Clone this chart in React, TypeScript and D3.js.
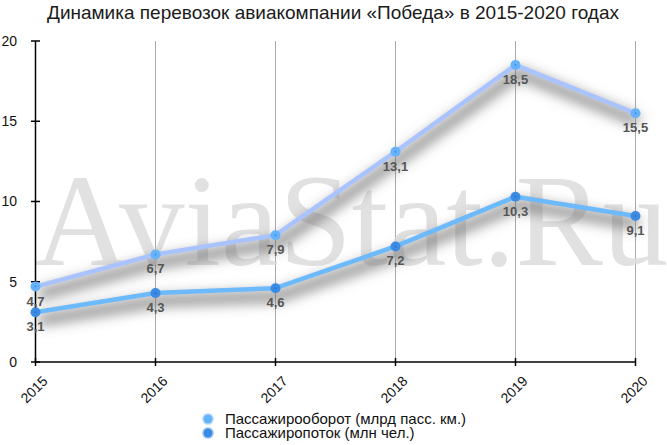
import React from "react";
import * as d3 from "d3";

const years = ["2015", "2016", "2017", "2018", "2019", "2020"];
const turnover = [4.7, 6.7, 7.9, 13.1, 18.5, 15.5];
const traffic = [3.1, 4.3, 4.6, 7.2, 10.3, 9.1];
const yTicks = [0, 5, 10, 15, 20];
const seriesNames = ["Пассажирооборот (млрд пасс. км.)", "Пассажиропоток (млн чел.)"];
const title = "Динамика перевозок авиакомпании «Победа» в 2015-2020 годах";

const W = 667;
const H = 445;
const FONT = "'Helvetica Neue', Helvetica, Arial, 'Liberation Sans', sans-serif";

export default function App() {
  const x = d3.scalePoint<string>().domain(years).range([35.5, 635.5]);
  const y = d3.scaleLinear().domain([0, 20]).range([362, 41]);
  const line = d3
    .line<number>()
    .x((_, i) => x(years[i]) as number)
    .y((d) => y(d));

  const series = [
    { data: turnover, line: "#a9c3ff", point: "#66b2fb", dot: "#3f8fe0" },
    { data: traffic, line: "#6cb9fb", point: "#3b8be4", dot: "#2a6fc0" },
  ];

  const fmt = (v: number) => v.toFixed(1).replace(".", ",");

  return (
    <svg width={W} height={H} style={{ position: "absolute", left: 0, top: 0, fontFamily: FONT }}>
      <defs>
        <filter id="shadow" x="-20%" y="-50%" width="140%" height="200%">
          <feGaussianBlur stdDeviation="6.5" />
        </filter>
      </defs>
      <rect width={W} height={H} fill="#fff" />
      <text x={333} y={19} textAnchor="middle" fontSize={19} fill="#1a1a1a">
        {title}
      </text>
      {/* vertical grid */}
      {years.slice(1).map((yr) => (
        <line key={yr} x1={x(yr)} x2={x(yr)} y1={41} y2={362} stroke="#aaa" strokeWidth={1} />
      ))}
      {/* watermark */}
      <text
        x={34}
        y={265}
        fontFamily="'Liberation Serif', 'Times New Roman', serif"
        fontSize={131}
        fill="#dcdcdc"
        opacity={0.85}
      >
        AviaStat.Ru
      </text>
      {/* shadows */}
      {series.map((s, i) => (
        <path
          key={"sh" + i}
          d={line(s.data) || ""}
          fill="none"
          stroke="#666"
          strokeOpacity={0.8}
          strokeWidth={10}
          transform="translate(3,8)"
          filter="url(#shadow)"
        />
      ))}
      {/* axes */}
      <line x1={35.5} x2={35.5} y1={41} y2={362} stroke="#000" strokeWidth={1.5} />
      <line x1={35.5} x2={635.5} y1={362} y2={362} stroke="#000" strokeWidth={1.5} />
      {yTicks.map((t) => (
        <g key={t}>
          <line x1={31} x2={40} y1={y(t)} y2={y(t)} stroke="#000" strokeWidth={1.5} />
          <text x={17} y={y(t)} dy="0.35em" textAnchor="end" fontSize={14} fill="#111">
            {t}
          </text>
        </g>
      ))}
      {years.map((yr) => (
        <g key={yr}>
          <line x1={x(yr)} x2={x(yr)} y1={358} y2={366} stroke="#000" strokeWidth={1.5} />
          <text
            transform={`translate(${(x(yr) as number) + 13},382) rotate(-45)`}
            textAnchor="end"
            fontSize={14}
            fill="#111"
          >
            {yr}
          </text>
        </g>
      ))}
      {/* lines */}
      {series.map((s, i) => (
        <g key={"s" + i}>
          <path d={line(s.data) || ""} fill="none" stroke={s.line} strokeWidth={4.5} strokeLinejoin="round" />
          {s.data.map((v, j) => (
            <g key={j}>
              <circle cx={x(years[j])} cy={y(v)} r={5} fill={s.point} />
              <circle cx={x(years[j])} cy={y(v)} r={1} fill={s.dot} />
            </g>
          ))}
        </g>
      ))}
      {/* labels */}
      {series.map((s, i) =>
        s.data.map((v, j) => (
          <text
            key={`l${i}-${j}`}
            x={x(years[j])}
            y={y(v) + 19}
            textAnchor="middle"
            fontSize={13}
            fontWeight="bold"
            fill="#555"
          >
            {fmt(v)}
          </text>
        ))
      )}
      {/* legend */}
      {seriesNames.map((n, i) => (
        <g key={n} transform={`translate(208,${419 + i * 14})`}>
          <circle r={6} fill={series[i].point} opacity={0.4} />
          <circle r={4.5} fill={series[i].point} />
          <text x={17} dy="0.35em" fontSize={15} fill="#111">
            {n}
          </text>
        </g>
      ))}
    </svg>
  );
}
